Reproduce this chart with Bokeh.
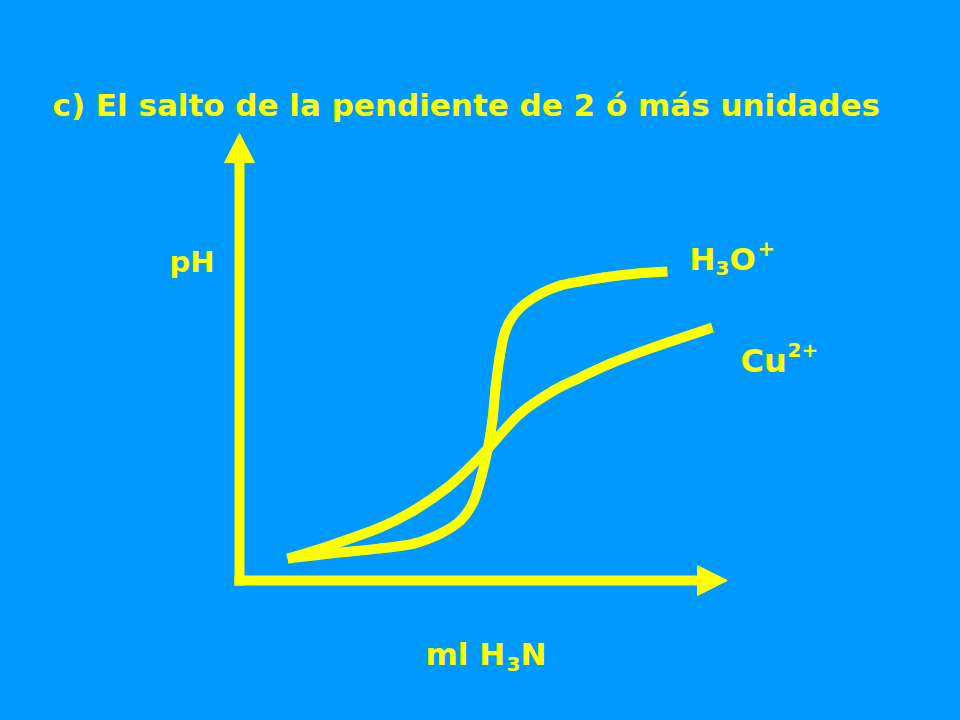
from bokeh.plotting import figure
from bokeh.models import Range1d
from bokeh.core.properties import value
from bokeh.embed import file_html
from bokeh.resources import INLINE

# ---- data (ml of H3N added vs pH) ----
h3o_ml = [1.07, 2.02, 3.13, 3.87, 4.47, 4.91, 5.20, 5.38, 5.51, 5.62,
          5.69, 5.78, 5.91, 6.18, 6.62, 7.13, 7.58, 8.09, 8.84, 9.51]
h3o_ph = [0.73, 0.90, 1.07, 1.23, 1.57, 2.00, 2.63, 3.50, 4.33, 5.33,
          6.43, 7.43, 8.33, 9.00, 9.50, 9.83, 9.97, 10.10, 10.23, 10.30]

cu_ml = [1.07, 2.02, 3.13, 3.87, 4.62, 5.20, 5.58, 6.24, 6.98, 7.58,
         8.24, 9.20, 10.51]
cu_ph = [0.73, 1.17, 1.77, 2.33, 3.10, 3.90, 4.50, 5.57, 6.33, 6.77,
         7.23, 7.77, 8.43]

title_text = "c) El salto de la pendiente de 2 ó más unidades"

# axis extents (data units)
x_axis_end, x_axis_tip = 10.18, 10.84
y_axis_end, y_axis_tip = 13.93, 14.90

BG = "#0099ff"
YEL = "#ffff00"
FONT = "DejaVu Sans"

W, H = 960, 720
SX, SY = 45.0, 30.0           # px per ml, px per pH
OX, OY = 239, 580             # origin in canvas px

def px(X):
    return (X - OX) / SX

def py(Y):
    return (OY - Y) / SY

p = figure(width=W, height=H, output_backend="svg", toolbar_location=None,
           x_range=Range1d(px(0), px(W)), y_range=Range1d(py(H), py(0)),
           min_border=0, background_fill_color=BG, border_fill_color=BG)
p.axis.visible = False
p.grid.visible = False
p.outline_line_color = None

# axes with arrow heads
p.line([0, 0], [-5 / SY, y_axis_end], line_color=YEL, line_width=10, line_cap="butt")
p.line([-5 / SX, x_axis_end], [0, 0], line_color=YEL, line_width=10, line_cap="butt")
p.patch([-15 / SX, 15 / SX, 0], [y_axis_end, y_axis_end, y_axis_tip],
        fill_color=YEL, line_color=YEL, line_width=1)
p.patch([x_axis_end, x_axis_end, x_axis_tip], [-15 / SY, 15 / SY, 0],
        fill_color=YEL, line_color=YEL, line_width=1)

# smooth curves: cubic Bezier segments through the read points (Catmull-Rom tangents)
def smooth(xs, ys, idx):
    n = len(xs)
    out = dict(x0=[], y0=[], x1=[], y1=[], cx0=[], cy0=[], cx1=[], cy1=[])
    for i in idx:
        a = max(i - 1, 0)
        b = min(i + 2, n - 1)
        out["x0"].append(xs[i]); out["y0"].append(ys[i])
        out["x1"].append(xs[i + 1]); out["y1"].append(ys[i + 1])
        out["cx0"].append(xs[i] + (xs[i + 1] - xs[a]) / 6.0)
        out["cy0"].append(ys[i] + (ys[i + 1] - ys[a]) / 6.0)
        out["cx1"].append(xs[i + 1] - (xs[b] - xs[i]) / 6.0)
        out["cy1"].append(ys[i + 1] - (ys[b] - ys[i]) / 6.0)
    return out

for xs, ys in ((cu_ml, cu_ph), (h3o_ml, h3o_ph)):
    n = len(xs)
    for idx, cap in ((list(range(1, n - 2)), "round"), ([0, n - 2], "butt")):
        p.bezier(source=smooth(xs, ys, idx), x0="x0", y0="y0", x1="x1", y1="y1",
                 cx0="cx0", cy0="cy0", cx1="cx1", cy1="cy1",
                 line_color=YEL, line_width=10, line_cap=cap)

def txt(X, Y, s, size):
    p.text(x=[px(X)], y=[py(Y)], text=[s], text_font=value(FONT),
           text_font_style="bold", text_font_size=f"{size}px",
           text_color=YEL, text_baseline="alphabetic", text_align="left")

txt(52, 104, title_text, 31)
txt(169, 261, "pH", 29)

# H3O+
txt(689, 258, "H", 31)
txt(715, 267, "3", 20)
txt(729, 258, "O", 31)
txt(757, 247, "+", 21)

# Cu2+
txt(740, 360, "Cu", 32)
txt(787, 349, "2+", 20)

# ml H3N
txt(425, 653, "ml H", 31)
txt(506, 663, "3", 20)
txt(520, 653, "N", 31)

html = file_html(p, INLINE)
css = "<style>html,body{margin:0;padding:0;overflow:hidden;background:%s}</style></head>" % BG
html = html.replace("</head>", css, 1)
open("out.html", "w").write(html)
